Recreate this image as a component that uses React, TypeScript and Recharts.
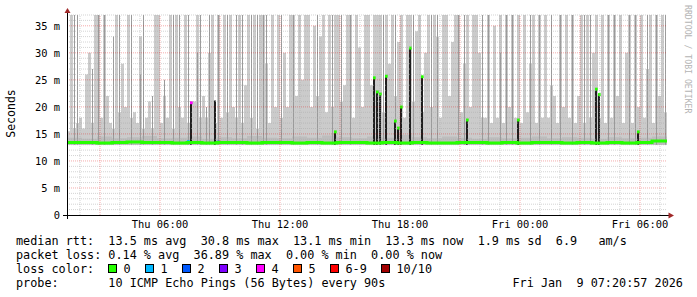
import React from 'react';
import { ComposedChart, Area, Bar, Line, XAxis, YAxis, ReferenceLine, Cell } from 'recharts';

// time axis in hours after Thu 00:00; each column = 9 minutes
const T0 = 1.35;
const STEP = 0.15;
const N = 200;
const T1 = T0 + STEP * N;
const BASE = 13.0;

// upper edge of light smoke per column (ms, clipped at 37)
const LIGHT = [
  15.5, 37, 16, 17, 18, 16, 26, 30, 17, 37,
  37, 18, 37, 22, 17, 16, 37, 19, 28, 20,
  37, 18, 19, 17, 33, 16, 18, 21, 16, 37,
  37, 17, 22, 18, 37, 16, 37, 20, 18, 37,
  17, 21, 21, 37, 18, 22, 18, 30, 37, 17,
  37, 18, 37, 19, 37, 20, 18, 37, 17, 24,
  37, 18, 37, 16, 37, 37, 28, 17, 37, 20,
  37, 18, 30, 20, 37, 37, 22, 37, 25, 37,
  37, 20, 35, 22, 33, 37, 19, 37, 20, 37,
  37, 21, 24, 37, 37, 18, 37, 31, 20, 37,
  37, 24, 37, 37, 37, 19, 37, 28, 37, 22,
  32, 37, 18, 37, 37, 21, 34, 37, 19, 30,
  37, 20, 37, 33, 18, 37, 37, 22, 32, 37,
  37, 19, 28, 37, 20, 37, 37, 30, 18, 18,
  37, 17, 35, 18, 37, 17, 37, 20, 37, 18,
  37, 17, 37, 19, 28, 37, 17, 37, 18, 37,
  18, 24, 22, 17, 37, 20, 37, 18, 37, 17,
  22, 37, 17, 37, 18, 30, 37, 18, 37, 17,
  37, 18, 37, 22, 37, 17, 30, 37, 17, 37,
  20, 37, 18, 27, 37, 17, 37, 22, 37, 19,
];

// dense smoke just above the median, one value per 5 columns
const HAZE = [
  14.3, 14.1, 14.5, 14.2, 14.4, 14.6, 14.2, 14.3, 14.5, 14.1,
  14.4, 14.2, 14.6, 14.3, 14.2, 14.5, 14.3, 14.7, 14.4, 14.2,
  14.5, 14.3, 14.8, 14.4, 14.2, 14.5, 14.3, 14.1, 14.4, 14.2,
  14.3, 14.5, 14.2, 14.4, 14.3, 14.1, 14.4, 14.2, 14.3, 14.5,
];

// median rtt, one value per 5 columns
const MEDIAN = [
  13.4, 13.4, 13.3, 13.4, 13.5, 13.4, 13.4, 13.3, 13.4, 13.3,
  13.4, 13.4, 13.3, 13.4, 13.4, 13.3, 13.4, 13.3, 13.4, 13.4,
  13.3, 13.4, 13.3, 13.4, 13.3, 13.3, 13.4, 13.4, 13.3, 13.4,
  13.3, 13.4, 13.4, 13.3, 13.4, 13.3, 13.4, 13.3, 13.4, 13.7,
];

// darker smoke lines
const MID_COLS = [
  2, 3, 8, 10, 12, 15, 17, 21, 24, 25, 28, 32, 35, 37, 40, 43, 44, 46, 47, 50, 53, 56, 58, 61, 63, 65, 66,
  71, 75, 83, 88, 91, 94, 105, 109, 115, 121, 123, 130, 132,
  138, 140, 144, 146, 148, 154, 157, 161, 164, 168, 172, 174, 180, 182, 187, 189, 193, 196, 199,
];
const MID_TOPS = [
  37, 37, 27, 37, 37, 33, 37, 37, 26, 37, 22, 25, 37, 37, 37, 30, 37, 20, 37, 37, 37, 37, 37, 37, 37, 37, 37,
  37, 37, 37, 37, 37, 37, 37, 37, 37, 37, 37, 37, 37,
  37, 37, 30, 37, 37, 37, 37, 37, 37, 37, 37, 37, 37, 37, 37, 37, 37, 37, 37,
];

// dense (black) smoke spikes and the loss colour of the median at their top (-1: none)
const SPIKE_COLS = [41, 49, 89, 102, 103, 104, 106, 109, 110, 111, 114, 118, 133, 150, 176, 177, 190];
const SPIKE_TOPS = [20.8, 21.2, 15.4, 25.4, 22.8, 22.4, 25.7, 17.4, 16.1, 20.0, 30.9, 25.6, 17.6, 17.6, 23.3, 22.3, 15.4];
const SPIKE_LOSS = [4, -1, 0, 0, 0, 0, 0, 0, 0, 0, 0, 0, 0, 0, 0, 0, 0];

// loss-coloured median points near the base line
const MARK_COLS = [40, 50];
const MARK_VALS = [13.6, 13.5];
const MARK_LOSS = [1, 2];

const LOSS_COLORS = ['#26ff00', '#00b8ff', '#0059ff', '#7e00ff', '#ff00ff', '#ff5500', '#ff0000', '#a10000'];
const LOSS_LABELS = ['0', '1', '2', '3', '4', '5', '6-9', '10/10'];

const Y_TICKS = [0, 5, 10, 15, 20, 25, 30, 35];
const Y_TICK_LABELS = ['0', '5 m', '10 m', '15 m', '20 m', '25 m', '30 m', '35 m'];
const X_TICKS = [6, 12, 18, 24, 30];
const X_TICK_LABELS = ['Thu 06:00', 'Thu 12:00', 'Thu 18:00', 'Fri 00:00', 'Fri 06:00'];

const LINE_RTT = 'median rtt:  13.5 ms avg  30.8 ms max  13.1 ms min  13.3 ms now  1.9 ms sd  6.9   am/s';
const LINE_LOSS = 'packet loss: 0.14 % avg  36.89 % max  0.00 % min  0.00 % now';
const LINE_COLOR = 'loss color:';
const LINE_PROBE = 'probe:       10 ICMP Echo Pings (56 Bytes) every 90s';
const STAMP = 'Fri Jan  9 07:20:57 2026';
const WATERMARK = 'RRDTOOL / TOBI OETIKER';

const pre = (s: string) => s.replace(/ /g, '\u00a0');

const rows = Array.from({ length: N + 1 }, (_, i) => {
  const j = Math.min(i, N - 1);
  const mi = MID_COLS.indexOf(i);
  const si = SPIKE_COLS.indexOf(i);
  const ki = MARK_COLS.indexOf(i);
  let mark: number[] | null = null;
  let markColor = 'none';
  if (si >= 0 && SPIKE_LOSS[si] >= 0) {
    mark = [SPIKE_TOPS[si] - 0.3, SPIKE_TOPS[si] + 0.25];
    markColor = LOSS_COLORS[SPIKE_LOSS[si]];
  } else if (ki >= 0) {
    mark = [MARK_VALS[ki] - 0.3, MARK_VALS[ki] + 0.25];
    markColor = LOSS_COLORS[MARK_LOSS[ki]];
  }
  return {
    t: T0 + STEP * i,
    tc: T0 + STEP * (i + 0.5),
    light: [BASE, LIGHT[j]],
    haze: [BASE, HAZE[Math.floor(j / 5)]],
    med: MEDIAN[Math.floor(j / 5)],
    mid: i < N && mi >= 0 ? [BASE, MID_TOPS[mi]] : null,
    dark: i < N && si >= 0 ? [BASE, SPIKE_TOPS[si]] : null,
    mark: i < N ? mark : null,
    markColor,
  };
});

const hMinor: number[] = [];
const hMajor: number[] = [];
for (let v = 1; v <= 37; v++) (v % 5 === 0 ? hMajor : hMinor).push(v);
const vMinor: number[] = [];
const vMajor: number[] = [];
for (let h = 2; h <= 31; h++) (h % 3 === 0 ? vMajor : vMinor).push(h);

const MONO = 'DejaVu Sans Mono';
const AXIS_RED = '#a02828';
const GRID_MINOR = 'rgba(170,170,170,0.5)';
const GRID_MAJOR = 'rgba(225,0,0,0.33)';

export default function App() {
  return (
    <div style={{ position: 'absolute', left: 0, top: 0, width: 697, height: 297, background: '#fff' }}>
      <ComposedChart width={697} height={297} data={rows} margin={{ top: 15, right: 30, bottom: 52, left: 0 }}>
        <XAxis
          xAxisId={0}
          dataKey="t"
          type="number"
          domain={[T0, T1]}
          allowDataOverflow
          ticks={X_TICKS}
          interval={0}
          tickFormatter={(v: number) => X_TICK_LABELS[X_TICKS.indexOf(v)]}
          tick={{ fontFamily: MONO, fontSize: 10.4, fill: '#000' }}
          tickLine={false}
          tickSize={0}
          tickMargin={6}
          axisLine={false}
          height={30}
        />
        <XAxis xAxisId="m" dataKey="tc" type="number" domain={[T0, T1]} allowDataOverflow hide />
        <XAxis xAxisId="d" dataKey="tc" type="number" domain={[T0, T1]} allowDataOverflow hide />
        <XAxis xAxisId="k" dataKey="tc" type="number" domain={[T0, T1]} allowDataOverflow hide />
        <YAxis
          type="number"
          domain={[0, 37]}
          allowDataOverflow
          ticks={Y_TICKS}
          interval={0}
          tickFormatter={(v: number) => Y_TICK_LABELS[Y_TICKS.indexOf(v)]}
          tick={{ fontFamily: MONO, fontSize: 10.4, fill: '#000' }}
          tickLine={false}
          tickSize={0}
          tickMargin={7}
          axisLine={false}
          width={67}
        />
        <Area xAxisId={0} dataKey="light" type="stepAfter" fill="#cbcbcb" fillOpacity={1} stroke="none" isAnimationActive={false} dot={false} activeDot={false} />
        <Area xAxisId={0} dataKey="haze" type="stepAfter" fill="#bdbdbd" fillOpacity={1} stroke="none" isAnimationActive={false} dot={false} activeDot={false} />
        <Bar xAxisId="m" dataKey="mid" barSize={1} fill="#9a9a9a" isAnimationActive={false} />
        <Bar xAxisId="d" dataKey="dark" barSize={2} fill="#1e1e1e" isAnimationActive={false} />
        {hMinor.map((v) => (
          <ReferenceLine key={'hm' + v} xAxisId={0} y={v} stroke={GRID_MINOR} strokeDasharray="1 1" />
        ))}
        {vMinor.map((h) => (
          <ReferenceLine key={'vm' + h} xAxisId={0} x={h} stroke={GRID_MINOR} strokeDasharray="1 1" />
        ))}
        {hMajor.map((v) => (
          <ReferenceLine key={'hM' + v} xAxisId={0} y={v} stroke={GRID_MAJOR} strokeDasharray="1 1" />
        ))}
        {vMajor.map((h) => (
          <ReferenceLine key={'vM' + h} xAxisId={0} x={h} stroke={GRID_MAJOR} strokeDasharray="1 1" />
        ))}
        <Line xAxisId={0} dataKey="med" type="stepAfter" stroke={LOSS_COLORS[0]} strokeWidth={3} dot={false} activeDot={false} isAnimationActive={false} />
        <Bar xAxisId="k" dataKey="mark" barSize={3} isAnimationActive={false}>
          {rows.map((r, i) => (
            <Cell key={i} fill={r.markColor} />
          ))}
        </Bar>
      </ComposedChart>
      <svg width={697} height={297} style={{ position: 'absolute', left: 0, top: 0, pointerEvents: 'none' }}>
        <line x1={67.5} y1={12} x2={67.5} y2={219} stroke="#000" strokeWidth={1} />
        <line x1={63} y1={215.5} x2={669} y2={215.5} stroke="#000" strokeWidth={1} />
        <polygon points="67.5,8 64.5,13 70.5,13" fill={AXIS_RED} />
        <polygon points="674,215.5 668.5,212.5 668.5,218.5" fill={AXIS_RED} />
        <text transform="translate(15,113.5) rotate(-90)" textAnchor="middle" fontFamily={MONO} fontSize={11.5} fill="#000">
          Seconds
        </text>
        <text transform="translate(685,5) rotate(90)" fontFamily={MONO} fontSize={8.2} fill="#b4b4b4">
          {WATERMARK}
        </text>
        <g fontFamily={MONO} fontSize={11.8} fill="#000">
          <text x={16} y={245}>{pre(LINE_RTT)}</text>
          <text x={16} y={259}>{pre(LINE_LOSS)}</text>
          <text x={16} y={273}>{pre(LINE_COLOR)}</text>
          <text x={16} y={287}>{pre(LINE_PROBE)}</text>
          <text x={512.5} y={287}>{pre(STAMP)}</text>
          {LOSS_LABELS.map((lab, i) => {
            const bx = [108.5, 145.5, 182.5, 219.5, 256.5, 293.5, 330.5, 381.5][i];
            return (
              <g key={lab}>
                <rect x={bx} y={264.5} width={8} height={8} fill={LOSS_COLORS[i]} stroke="#000" strokeWidth={1} />
                <text x={bx + 15} y={273}>{lab}</text>
              </g>
            );
          })}
        </g>
      </svg>
    </div>
  );
}
